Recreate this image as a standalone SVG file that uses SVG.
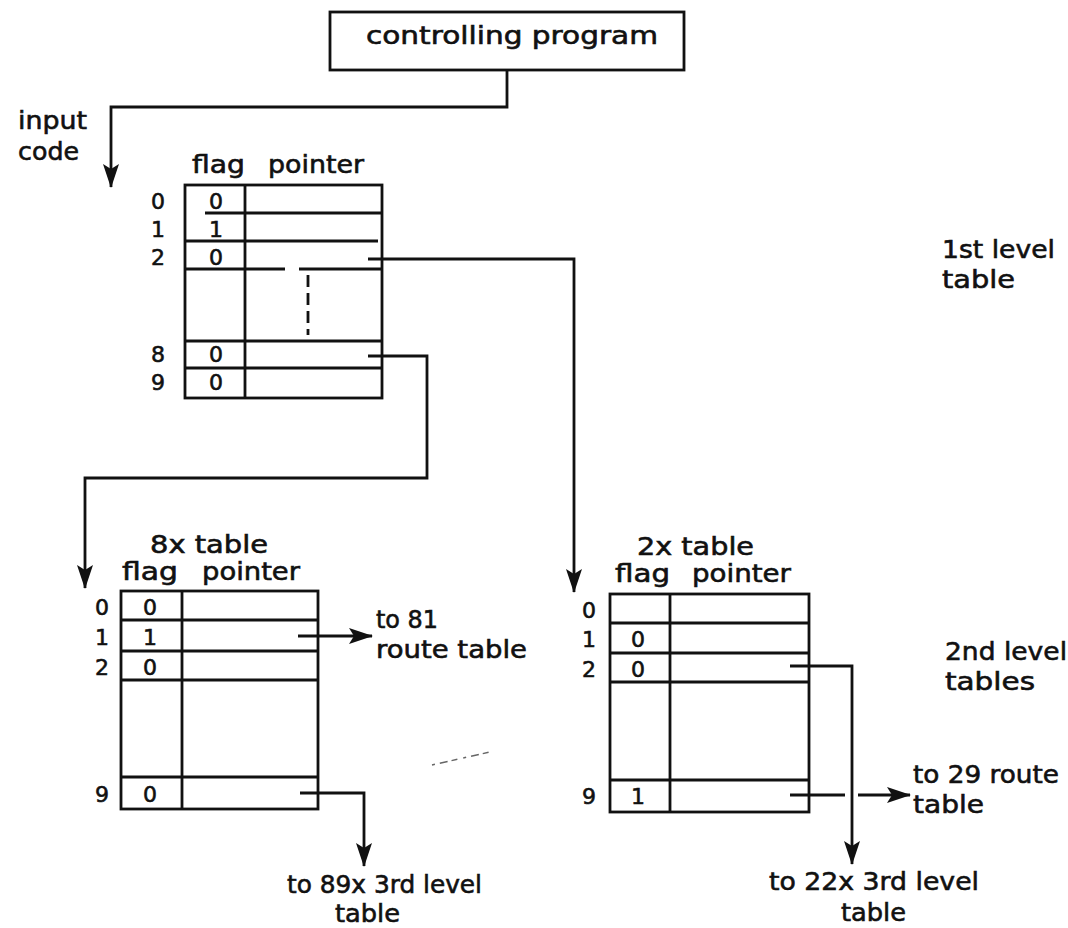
<svg xmlns="http://www.w3.org/2000/svg" width="1068" height="928" viewBox="0 0 1068 928">
<style>
text{font-family:"DejaVu Sans","Liberation Sans",sans-serif;font-size:25px;fill:#111;stroke:#111;stroke-width:0.6}
.ln{stroke:#111;stroke-width:2.8;fill:none}
.c{text-anchor:middle}
.s{font-size:22px}
</style>
<defs>
<marker id="a" markerUnits="userSpaceOnUse" markerWidth="24" markerHeight="16" viewBox="0 0 24 16" refX="23" refY="8" orient="auto">
<path d="M0 0 L24 8 L0 16 L5 8 Z" fill="#111"/>
</marker>
</defs>
<rect width="1068" height="928" fill="#fff"/>

<g id="controlling-program">
<rect class="ln" x="330" y="12" width="354" height="58"/>
<text x="366" y="44" textLength="292" lengthAdjust="spacingAndGlyphs">controlling program</text>
</g>

<g id="input-code-label">
<text x="18" y="129" textLength="69" lengthAdjust="spacingAndGlyphs">input</text>
<text x="18" y="160" textLength="61" lengthAdjust="spacingAndGlyphs">code</text>
</g>

<g id="first-level-table">
<text x="192" y="173" textLength="53" lengthAdjust="spacingAndGlyphs">flag</text>
<text x="268" y="173" textLength="96" lengthAdjust="spacingAndGlyphs">pointer</text>
<rect class="ln" x="185" y="185" width="197" height="213"/>
<path class="ln" d="M245 185 V398 M205 213 H382 M185 241 H378 M185 269 H285 M299 269 H382 M185 341 H382 M185 368 H382"/>
<path class="ln" d="M308 275 V335" stroke-dasharray="12 6"/>
<text class="c s" x="158" y="209">0</text>
<text class="c s" x="158" y="237">1</text>
<text class="c s" x="158" y="265">2</text>
<text class="c s" x="158" y="362">8</text>
<text class="c s" x="158" y="390">9</text>
<text class="c s" x="216" y="209">0</text>
<text class="c s" x="216" y="237">1</text>
<text class="c s" x="216" y="265">0</text>
<text class="c s" x="216" y="362">0</text>
<text class="c s" x="216" y="390">0</text>
</g>

<g id="first-level-label">
<text x="942" y="258" textLength="113" lengthAdjust="spacingAndGlyphs">1st level</text>
<text x="942" y="288" textLength="73" lengthAdjust="spacingAndGlyphs">table</text>
</g>

<g id="table-8x">
<text x="150" y="553" textLength="118" lengthAdjust="spacingAndGlyphs">8x table</text>
<text x="122" y="580" textLength="56" lengthAdjust="spacingAndGlyphs">flag</text>
<text x="202" y="580" textLength="98" lengthAdjust="spacingAndGlyphs">pointer</text>
<rect class="ln" x="121" y="591" width="197" height="218"/>
<path class="ln" d="M182 591 V809 M121 620 H318 M121 651 H318 M121 680 H318 M121 777 H318"/>
<text class="c s" x="102" y="615">0</text>
<text class="c s" x="102" y="645">1</text>
<text class="c s" x="102" y="675">2</text>
<text class="c s" x="102" y="802">9</text>
<text class="c s" x="150" y="615">0</text>
<text class="c s" x="150" y="645">1</text>
<text class="c s" x="150" y="675">0</text>
<text class="c s" x="150" y="802">0</text>
</g>

<g id="table-2x">
<text x="637" y="555" textLength="117" lengthAdjust="spacingAndGlyphs">2x table</text>
<text x="615" y="582" textLength="55" lengthAdjust="spacingAndGlyphs">flag</text>
<text x="692" y="582" textLength="99" lengthAdjust="spacingAndGlyphs">pointer</text>
<rect class="ln" x="610" y="594" width="199" height="218"/>
<path class="ln" d="M670 594 V812 M610 623 H809 M610 653 H809 M610 682 H809 M610 780 H809"/>
<text class="c s" x="589" y="618">0</text>
<text class="c s" x="589" y="647">1</text>
<text class="c s" x="589" y="677">2</text>
<text class="c s" x="589" y="804">9</text>
<text class="c s" x="638" y="647">0</text>
<text class="c s" x="638" y="677">0</text>
<text class="c s" x="638" y="804">1</text>
</g>

<g id="second-level-label">
<text x="945" y="660" textLength="122" lengthAdjust="spacingAndGlyphs">2nd level</text>
<text x="945" y="690" textLength="90" lengthAdjust="spacingAndGlyphs">tables</text>
</g>

<g id="to-81-route-table">
<text x="376" y="628" textLength="62" lengthAdjust="spacingAndGlyphs">to 81</text>
<text x="376" y="658" textLength="151" lengthAdjust="spacingAndGlyphs">route table</text>
</g>

<g id="to-89x-3rd-level">
<text x="287" y="893" textLength="195" lengthAdjust="spacingAndGlyphs">to 89x 3rd level</text>
<text x="335" y="922" textLength="65" lengthAdjust="spacingAndGlyphs">table</text>
</g>

<g id="to-29-route-table">
<text x="913" y="783" textLength="146" lengthAdjust="spacingAndGlyphs">to 29 route</text>
<text x="913" y="813" textLength="71" lengthAdjust="spacingAndGlyphs">table</text>
</g>

<g id="to-22x-3rd-level">
<text x="769" y="890" textLength="210" lengthAdjust="spacingAndGlyphs">to 22x 3rd level</text>
<text x="841" y="921" textLength="65" lengthAdjust="spacingAndGlyphs">table</text>
</g>

<g id="connectors">
<path class="ln" d="M507 70 V107 H111 V187" marker-end="url(#a)"/>
<path class="ln" d="M368 259 H574 V592" marker-end="url(#a)"/>
<path class="ln" d="M368 356 H427 V478 H85 V588" marker-end="url(#a)"/>
<path class="ln" d="M298 636 H372" marker-end="url(#a)"/>
<path class="ln" d="M300 793 H364 V866" marker-end="url(#a)"/>
<path class="ln" d="M790 666 H852 V864" marker-end="url(#a)"/>
<path class="ln" d="M790 795 H845"/>
<path class="ln" d="M858 795 H910" marker-end="url(#a)"/>
</g>

<g id="scan-mark">
<path d="M432 765 L490 752" stroke="#666" stroke-width="1.5" stroke-dasharray="3 5 8 4 6 6" fill="none"/>
</g>
</svg>
